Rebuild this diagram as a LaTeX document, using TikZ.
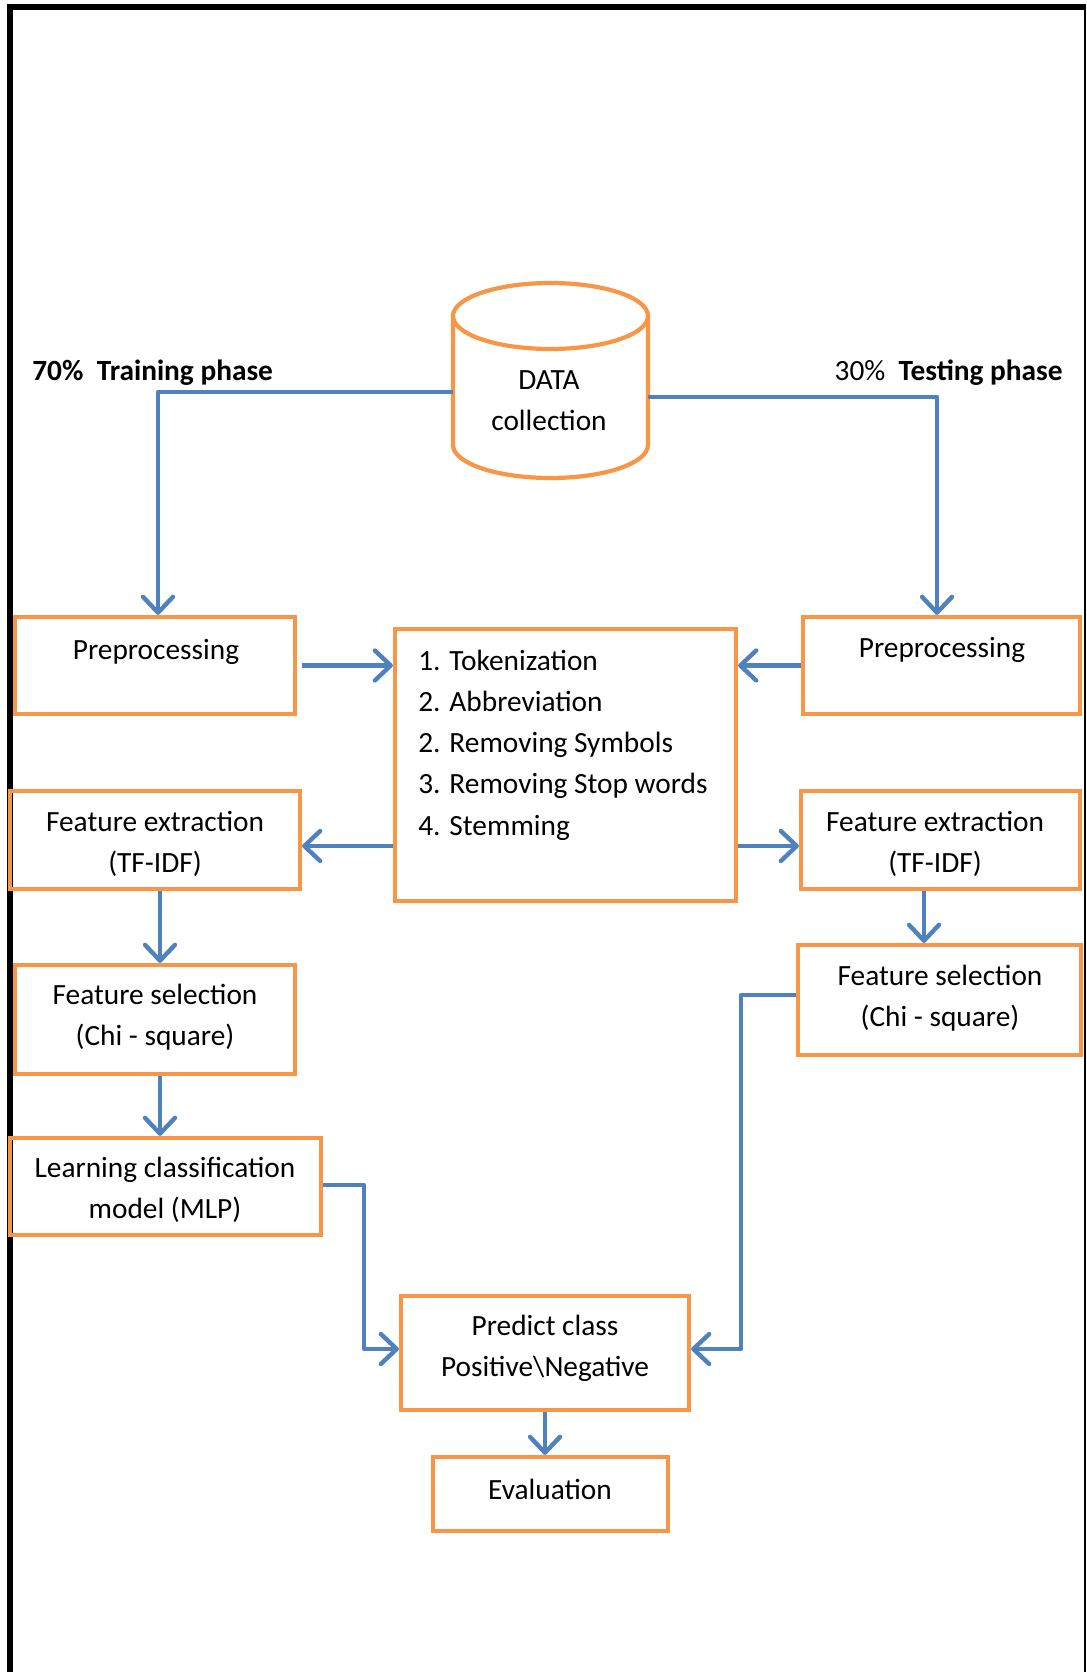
\documentclass[tikz,border=0pt]{standalone}
\usepackage{fontspec}
\setmainfont{Carlito}
\usetikzlibrary{arrows.meta,fit}
\definecolor{orng}{RGB}{247,150,70}
\definecolor{blu}{RGB}{79,129,189}
\tikzset{
  box/.style={draw=orng, line width=2.4pt, rectangle, inner sep=0pt},
  arr/.style={draw=blu, line width=2.5pt, line join=round,
    -{Straight Barb[length=9pt,width=17pt,round]}},
  txt/.style={font=\fontsize{16.7pt}{23.5pt}\selectfont, align=center, inner sep=0pt},
}
\begin{document}
\begin{tikzpicture}[x=0.02cm,y=-0.02cm]
\useasboundingbox (0,0) rectangle (1087,1672);
% frame
\draw[line width=3.4pt] (10,1672) -- (10,7) -- (1086,7);
\draw[line width=1pt] (1085,7) -- (1085,1672);
% cylinder
\draw[orng, line width=2.4pt] (453,316) -- (453,445) arc[start angle=180, end angle=360, x radius=1.95cm, y radius=0.66cm] -- (648,316);
\draw[orng, line width=2.4pt] (550.5,316) ellipse [x radius=1.95cm, y radius=0.66cm];
\node[txt] (data) at (549,401) {DATA\\collection};
\coordinate (dataL) at (453,392);
\coordinate (dataR) at (648,397);
% phase labels
\node[txt, anchor=west] (trn) at (32,373) {\textbf{70\%\ \ Training phase}};
\node[txt, anchor=east] (tst) at (1063,373) {30\%\ \ \textbf{Testing phase}};
% boxes
\node[box, fit={(15,617) (295,714)}] (p1) {};
\node[txt] (p1t) at (156,652) {Preprocessing};
\node[box, fit={(395,629) (736,901)}] (list) {};
\node[txt, align=left, anchor=west] (listt) at (418,745) {1. Tokenization\\2. Abbreviation\\2. Removing Symbols\\3. Removing Stop words\\4. Stemming};
\node[box, fit={(803,617) (1080,714)}] (p2) {};
\node[txt] (p2t) at (942,650) {Preprocessing};
\node[box, fit={(10,791) (300,889)}] (fe1) {};
\node[txt] (fe1t) at (155,844) {Feature extraction\\(TF-IDF)};
\node[box, fit={(801,791) (1080,889)}] (fe2) {};
\node[txt] (fe2t) at (935,844) {Feature extraction\\(TF-IDF)};
\node[box, fit={(15,965) (295,1074)}] (fs1) {};
\node[txt] (fs1t) at (155,1017) {Feature selection\\(Chi - square)};
\node[box, fit={(798,945) (1081,1055)}] (fs2) {};
\node[txt] (fs2t) at (940,998) {Feature selection\\(Chi - square)};
\node[box, fit={(10,1138) (321,1235)}] (lm) {};
\node[txt] (lmt) at (165,1190) {Learning classification\\model (MLP)};
\node[box, fit={(401,1296) (689,1410)}] (pc) {};
\node[txt] (pct) at (545,1348) {Predict class\\Positive\textbackslash Negative};
\node[box, fit={(433,1457) (668,1531)}] (ev) {};
\node[txt] (evt) at (550,1489) {Evaluation};
% connectors
\draw[arr] (dataL) -| ([xshift=0.06cm]p1.north);
\draw[arr] (dataR) -| ([xshift=-0.09cm]p2.north);
\draw[arr] ([xshift=0.1cm]p1.east) -- (p1.east -| list.west);
\draw[arr] (p2.west) -- (p2.west -| list.east);
\draw[arr] ([yshift=-0.12cm]fe1.east -| list.west) -- ([yshift=-0.12cm]fe1.east);
\draw[arr] ([yshift=-0.12cm]fe2.west -| list.east) -- ([yshift=-0.12cm]fe2.west);
\draw[arr] ([xshift=0.1cm]fe1.south) -- ([xshift=0.1cm]fe1.south |- fs1.north);
\draw[arr] ([xshift=-0.33cm]fe2.south) -- ([xshift=-0.33cm]fe2.south |- fs2.north);
\draw[arr] ([xshift=0.1cm]fs1.south) -- ([xshift=0.1cm]fs1.south |- lm.north);
\draw[arr] ([yshift=0.03cm]lm.east) -- ++(41,0) |- ([yshift=0.08cm]pc.west);
\draw[arr] ([yshift=0.1cm]fs2.west) -- ++(-55,0) |- ([yshift=0.08cm]pc.east);
\draw[arr] (pc.south) -- (pc.south |- ev.north);
\end{tikzpicture}
\end{document}
